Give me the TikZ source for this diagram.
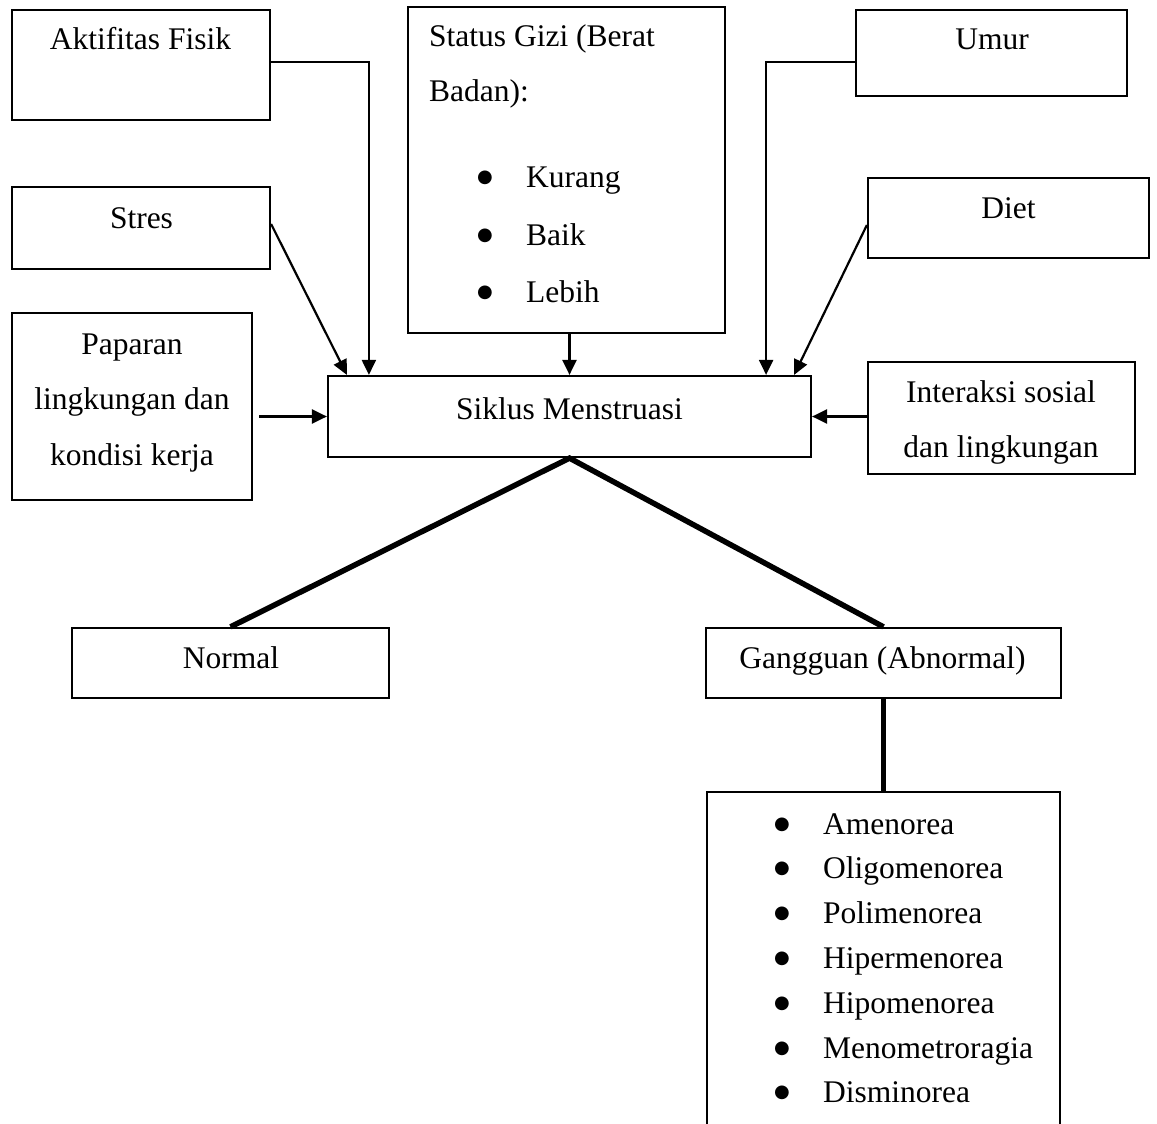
\documentclass[tikz,border=0pt]{standalone}
\usepackage{fontspec}
\setmainfont{Liberation Serif}
\newfontfamily\symfont{DejaVu Sans}
\usetikzlibrary{arrows.meta}
\tikzset{
  box/.style={draw, line width=2.2pt, rectangle, inner sep=0pt},
  lbl/.style={anchor=base, inner sep=0pt, font=\fontsize{31.5}{38}\selectfont},
  lbll/.style={lbl, anchor=base west},
  dot/.style={anchor=base, inner sep=0pt, yshift=5pt, font=\symfont\fontsize{18}{22}\selectfont},
  arr/.style={line width=2.2pt, -{Triangle[length=15pt,width=14pt]}},
  branch/.style={line width=5.5pt},
}
\begin{document}
\begin{tikzpicture}[x=1pt,y=-1pt]
\clip (0,0) rectangle (1157,1124);
\fill[white] (0,0) rectangle (1157,1124);

% factor boxes
\node[box, minimum width=258pt, minimum height=110pt] (akt)    at (141,65)     {};
\node[box, minimum width=258pt, minimum height=82pt]  (stres)  at (141,228)    {};
\node[box, minimum width=240pt, minimum height=187pt] (pap)    at (132,406.5)  {};
\node[box, minimum width=317pt, minimum height=326pt] (gizi)   at (566.5,170)  {};
\node[box, minimum width=271pt, minimum height=86pt]  (umur)   at (991.5,53)   {};
\node[box, minimum width=281pt, minimum height=80pt]  (diet)   at (1008.5,218) {};
\node[box, minimum width=267pt, minimum height=112pt] (inter)  at (1001.5,418) {};
% central and outcome boxes
\node[box, minimum width=483pt, minimum height=81pt]  (siklus) at (569.5,416.5) {};
\node[box, minimum width=317pt, minimum height=70pt]  (normal) at (230.5,663)  {};
\node[box, minimum width=355pt, minimum height=70pt]  (gang)   at (883.5,663)  {};
\node[box, minimum width=353pt, minimum height=368pt] (list)   at (883.5,976)  {};

% texts
\node[lbl] (takt) at (140.5,50) {Aktifitas Fisik};
\node[lbl] (tstres) at (141.5,228) {Stres};
\node[lbl] (tpap1) at (132,354) {Paparan};
\node[lbl] (tpap2) at (132,409) {lingkungan dan};
\node[lbl] (tpap3) at (132,465) {kondisi kerja};
\node[lbll] (tgizi1) at (429,47) {Status Gizi (Berat};
\node[lbll] (tgizi2) at (429,102) {Badan):};
\node[dot] (bg1) at (485,187) {●};
\node[dot] (bg2) at (485,245) {●};
\node[dot] (bg3) at (485,302) {●};
\node[lbll] (tg1) at (526,187) {Kurang};
\node[lbll] (tg2) at (526,245) {Baik};
\node[lbll] (tg3) at (526,302) {Lebih};
\node[lbl] (tumur) at (992,50) {Umur};
\node[lbl] (tdiet) at (1008.5,218) {Diet};
\node[lbl] (tint1) at (1001,402) {Interaksi sosial};
\node[lbl] (tint2) at (1001,457) {dan lingkungan};
\node[lbl] (tsik) at (569.5,419) {Siklus Menstruasi};
\node[lbl] (tnorm) at (231,668) {Normal};
\node[lbl] (tgang) at (882.5,668) {Gangguan (Abnormal)};

\foreach \yy/\txt [count=\i] in {834/Amenorea, 878/Oligomenorea, 923/Polimenorea,
    968/Hipermenorea, 1013/Hipomenorea, 1058/Menometroragia, 1102/Disminorea} {
  \node[dot] (bl\i) at (782,\yy) {●};
  \node[lbll] (tl\i) at (823,\yy) {\txt};
}

% arrows into the cycle box
\draw[arr] ([yshift=3pt]akt.east) -| ([xshift=42pt]siklus.north west);
\draw[arr] ([yshift=4pt]stres.east) -- ([xshift=20pt]siklus.north west);
\draw[arr] ([xshift=6pt]pap.east |- siklus.west) -- (siklus.west);
\draw[arr] ([xshift=3pt]gizi.south) -- ([xshift=3pt]gizi.south |- siklus.north);
\draw[arr] ([yshift=-9pt]umur.west) -| ([xshift=-46pt]siklus.north east);
\draw[arr] ([yshift=-7pt]diet.west) -- ([xshift=-18pt]siklus.north east);
\draw[arr] (inter.west |- siklus.east) -- (siklus.east);

% outcome branches
\draw[branch] (normal.north) -- (siklus.south) -- (gang.north);
\draw[branch] (gang.south) -- (list.north);
\end{tikzpicture}
\end{document}
